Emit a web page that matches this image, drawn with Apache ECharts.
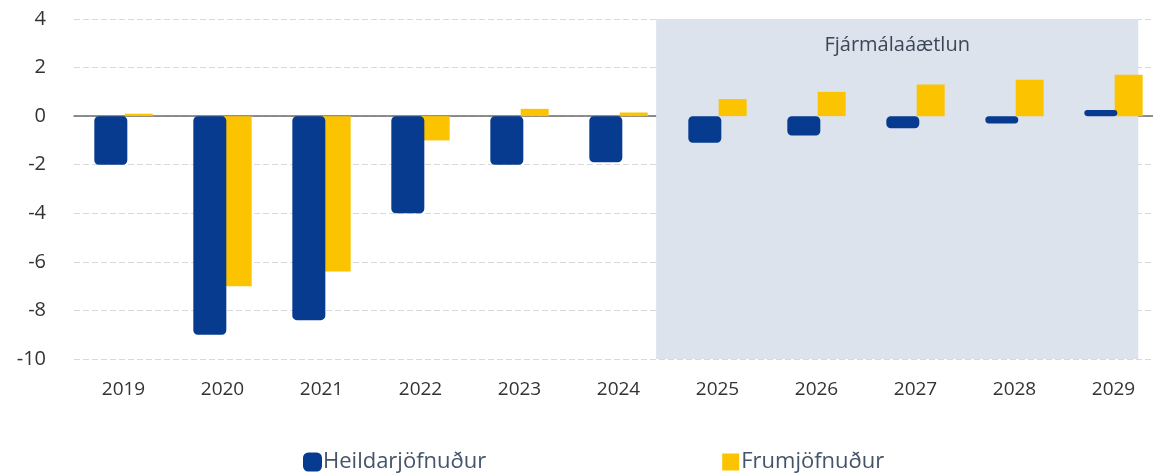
<!DOCTYPE html>
<html>
<head>
<meta charset="utf-8">
<script src="https://cdn.jsdelivr.net/npm/echarts@6/dist/echarts.min.js"></script>
<style>
  html, body { margin: 0; padding: 0; background: #fff; }
  #chart { width: 1153px; height: 475px; }
</style>
</head>
<body>
<div id="chart"></div>
<script>
const years = ['2019', '2020', '2021', '2022', '2023', '2024', '2025', '2026', '2027', '2028', '2029'];
const heildarjofnudur = [-2.0, -9.0, -8.4, -4.0, -2.0, -1.9, -1.1, -0.8, -0.5, -0.3, 0.25];
const frumjofnudur = [0.1, -7.0, -6.4, -1.0, 0.3, 0.15, 0.7, 1.0, 1.3, 1.5, 1.7];
const yTicks = [4, 2, 0, -2, -4, -6, -8, -10];
// skyggða svæðið (fjármálaáætlun), á hjálparás 0..11
const planStart = 5.88;
const planEnd = 10.75;

const chart = echarts.init(document.getElementById('chart'));

const textColor = '#333333';
const font = 'Open Sans';

const option = {
  animation: false,
  textStyle: { fontFamily: font },
  grid: { left: 74, right: -10, top: 19, bottom: 116, outerBoundsMode: 'none', containLabel: false },
  legend: {
    bottom: -3,
    left: 298,
    itemGap: 236,
    itemWidth: 17,
    itemHeight: 17,
    textStyle: { fontSize: 22, color: '#44546a', fontFamily: font, padding: [0, 0, 0, -3] },
    data: [
      { name: 'Heildarjöfnuður', icon: 'roundRect' },
      { name: 'Frumjöfnuður', icon: 'rect' }
    ]
  },
  xAxis: [
    {
      type: 'category',
      data: years,
      axisTick: { show: false },
      axisLine: { onZero: true, lineStyle: { color: '#6b6b6b', width: 1.5 } },
      axisLabel: { color: textColor, fontSize: 19, margin: 0, padding: [21, 0, 0, 0] }
    },
    {
      type: 'value',
      min: 0,
      max: 11,
      show: false
    }
  ],
  yAxis: {
    type: 'value',
    min: -10,
    max: 4,
    interval: 2,
    axisLine: { show: false },
    axisTick: { show: false },
    axisLabel: {
      color: textColor,
      fontSize: 20,
      margin: 28,
      formatter: v => yTicks.includes(v) ? String(v) : ''
    },
    splitLine: { lineStyle: { color: '#d9d9d9', type: [6, 3], width: 1 } }
  },
  series: [
    {
      name: 'plan',
      type: 'line',
      xAxisIndex: 1,
      data: [],
      silent: true,
      z: 0,
      markArea: {
        silent: true,
        itemStyle: { color: '#dce3ed' },
        label: {
          show: true,
          position: 'insideTop',
          distance: 16,
          color: '#3b4656',
          fontSize: 20,
          fontFamily: font
        },
        data: [[{ xAxis: planStart, name: 'Fjármálaáætlun' }, { xAxis: planEnd }]]
      }
    },
    {
      name: 'Heildarjöfnuður',
      type: 'bar',
      data: heildarjofnudur,
      barWidth: 33,
      barGap: '-8%',
      z: 3,
      itemStyle: {
        color: '#063b8f',
        borderColor: '#063b8f',
        borderWidth: 3,
        borderRadius: 3
      }
    },
    {
      name: 'Frumjöfnuður',
      type: 'bar',
      data: frumjofnudur,
      barWidth: 28,
      z: 2,
      itemStyle: { color: '#fcc400' }
    }
  ]
};

chart.setOption(option);
window.addEventListener('resize', () => {
  chart.resize();
});
</script>
</body>
</html>
